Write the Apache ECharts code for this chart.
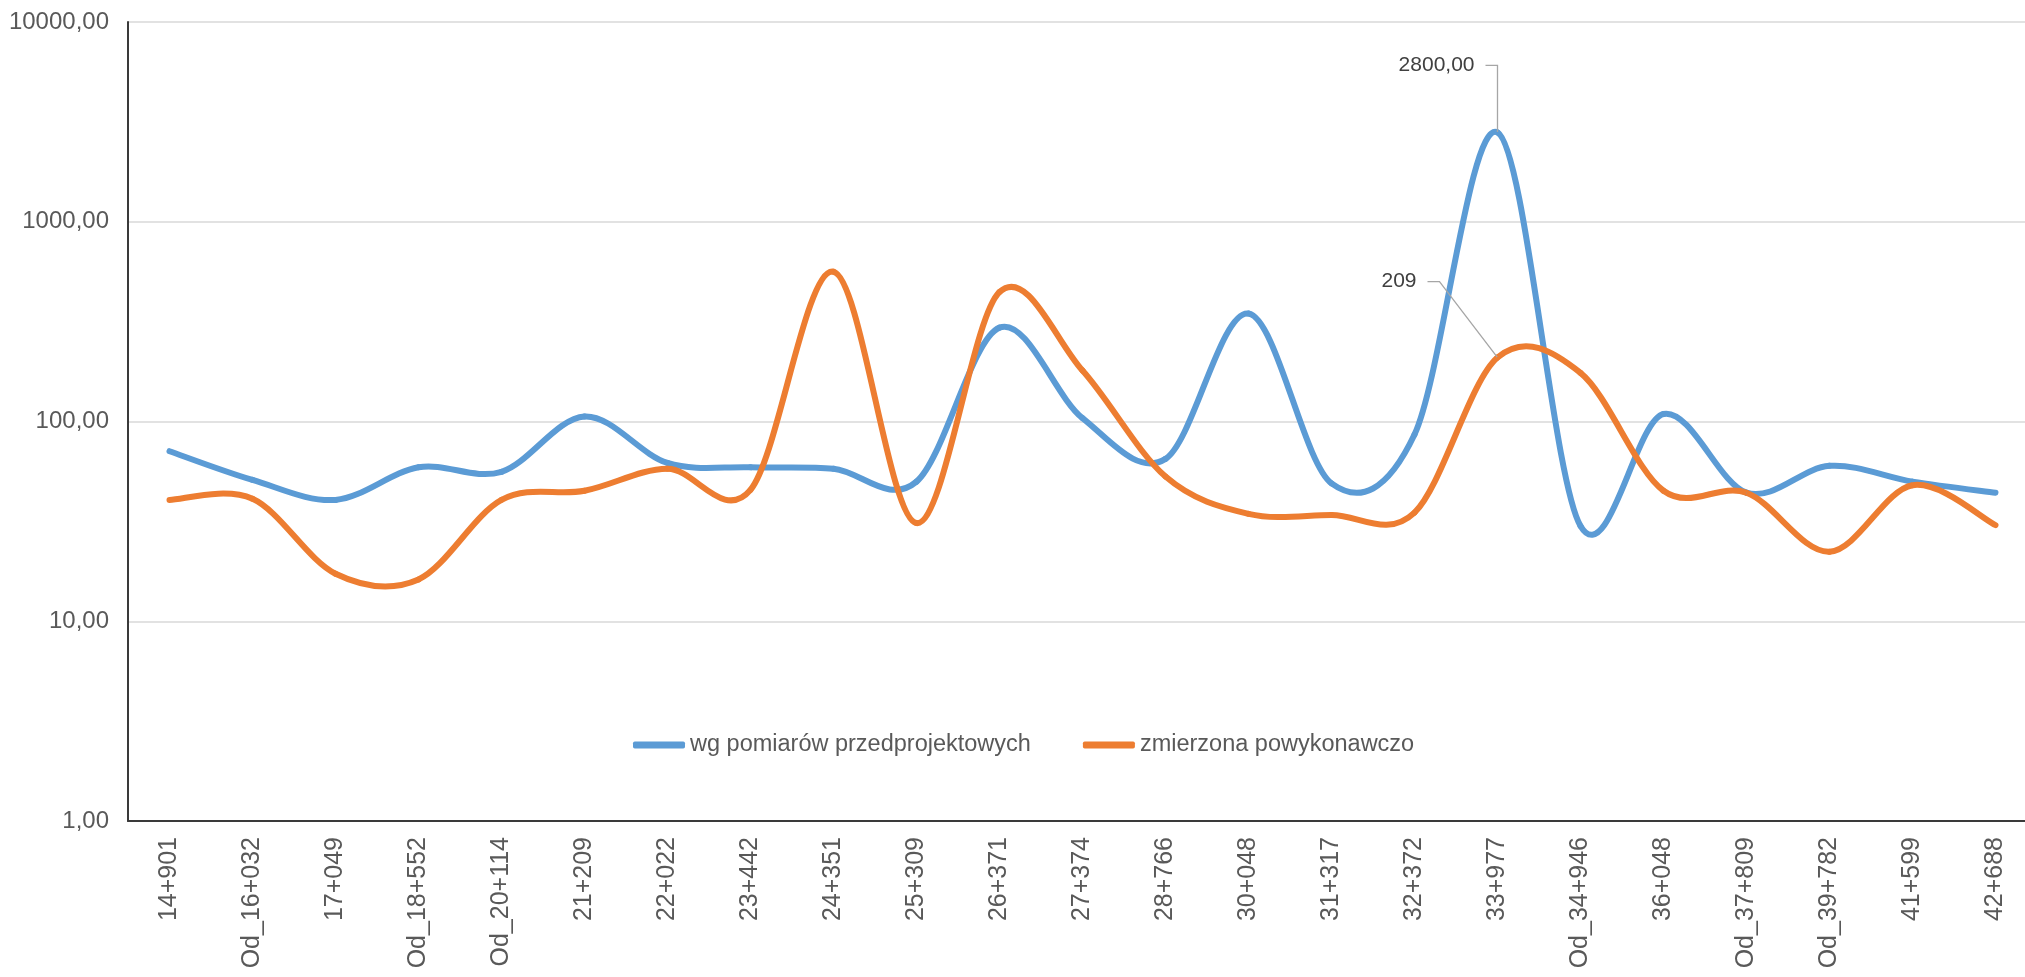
<!DOCTYPE html>
<html>
<head>
<meta charset="utf-8">
<script src="https://cdn.jsdelivr.net/npm/echarts@6/dist/echarts.min.js"></script>
<style>
html,body{margin:0;padding:0;background:#fff;}
#chart{width:2025px;height:977px;}
</style>
</head>
<body>
<div id="chart"></div>
<script>
const categories = ['14+901','Od_16+032','17+049','Od_18+552','Od_20+114','21+209','22+022','23+442','24+351','25+309','26+371','27+374','28+766','30+048','31+317','32+372','33+977','Od_34+946','36+048','Od_37+809','Od_39+782','41+599','42+688'];
const seriesNames = ['wg pomiarów przedprojektowych','zmierzona powykonawczo'];
const preDesign = [71, 51, 40.5, 59, 56, 106, 62, 59, 58, 50, 295, 104, 65, 347, 49, 86, 2800, 30, 109, 44, 60, 50, 44];
const asBuilt = [40.5, 41, 17.3, 16.2, 40.5, 45, 58, 45.5, 562, 31, 445, 180, 53, 34.5, 34, 35, 209, 175, 45, 44, 22.3, 48, 30.3];
const yTicks = [1, 10, 100, 1000, 10000];
const labeledIndex = 16;
const colors = ['#5b9bd5', '#ed7d31'];

const FONT = '"Liberation Sans", Arial, sans-serif';
const fmtComma = v => v.toFixed(2).replace('.', ',');

const chart = echarts.init(document.getElementById('chart'), null, {renderer: 'canvas'});

// Smoothed curve (Catmull-Rom style, like spreadsheet smoothed lines), positioned via the axes.
function curveSeries(name, values, color, z) {
  const n = values.length;
  return {
    name: name,
    type: 'custom',
    z: z,
    silent: true,
    itemStyle: {color: color},
    data: values.map((v, i) => [i, v]),
    encode: {x: 0, y: 1},
    renderItem: function (params, api) {
      const i = params.dataIndex;
      if (i >= n - 1) return null;
      const P = k => {
        const c = Math.max(0, Math.min(n - 1, k));
        return api.coord([c, values[c]]);
      };
      const p0 = P(i - 1), p1 = P(i), p2 = P(i + 1), p3 = P(i + 2);
      const t = 1 / 6;
      return {
        type: 'bezierCurve',
        shape: {
          x1: p1[0], y1: p1[1], x2: p2[0], y2: p2[1],
          cpx1: p1[0] + (p2[0] - p0[0]) * t, cpy1: p1[1] + (p2[1] - p0[1]) * t,
          cpx2: p2[0] - (p3[0] - p1[0]) * t, cpy2: p2[1] - (p3[1] - p1[1]) * t
        },
        style: {stroke: color, fill: null, lineWidth: 6, lineCap: 'round'}
      };
    }
  };
}

function makeData(arr, formatter) {
  return arr.map((v, i) => {
    if (i !== labeledIndex) return v;
    return {
      value: v,
      label: {
        show: true,
        formatter: formatter(v),
        fontFamily: FONT,
        fontSize: 21,
        color: '#404040',
        backgroundColor: 'rgba(255,255,255,0)',
        padding: [0, 11, 0, 0]
      },
      labelLine: {show: true, length2: 12, lineStyle: {color: '#a6a6a6', width: 1.3}}
    };
  });
}

function labelSeries(name, values, color, formatter, offX, offY) {
  return {
    name: name,
    type: 'line',
    data: makeData(values, formatter),
    showSymbol: true,
    showAllSymbol: true,
    symbol: 'circle',
    symbolSize: 1,
    itemStyle: {color: color},
    lineStyle: {opacity: 0},
    silent: true,
    z: 5,
    labelLayout: function (p) {
      if (p.dataIndex !== labeledIndex) return {};
      const cx = p.rect.x + p.rect.width / 2;
      const cy = p.rect.y + p.rect.height / 2;
      return {x: cx + offX, y: cy + offY, align: 'right', verticalAlign: 'middle'};
    }
  };
}

chart.setOption({
  animation: false,
  backgroundColor: '#ffffff',
  grid: {left: 128, width: 1909, top: 22, bottom: 156, containLabel: false, outerBoundsMode: 'none'},
  legend: {
    left: 633,
    top: 733,
    padding: 0,
    icon: 'roundRect',
    itemWidth: 52,
    itemHeight: 7,
    itemGap: 52,
    textStyle: {fontFamily: FONT, fontSize: 23.5, color: '#595959'},
    data: [
      {name: seriesNames[0], itemStyle: {color: colors[0], opacity: 1}},
      {name: seriesNames[1], itemStyle: {color: colors[1], opacity: 1}}
    ]
  },
  xAxis: {
    type: 'category',
    data: categories,
    boundaryGap: true,
    axisLine: {show: true, lineStyle: {color: '#3a3a3a', width: 2}},
    axisTick: {show: false},
    axisLabel: {rotate: 90, interval: 0, margin: 16, fontFamily: FONT, fontSize: 25, color: '#595959'},
    splitLine: {show: false}
  },
  yAxis: {
    type: 'log',
    logBase: 10,
    min: yTicks[0],
    max: yTicks[yTicks.length - 1],
    axisLine: {show: true, lineStyle: {color: '#3a3a3a', width: 2}},
    axisTick: {show: false},
    axisLabel: {margin: 19, fontFamily: FONT, fontSize: 24, color: '#595959', formatter: v => fmtComma(v)},
    splitLine: {show: true, lineStyle: {color: '#d9d9d9', width: 1.5}},
    minorTick: {show: false},
    minorSplitLine: {show: false}
  },
  series: [
    curveSeries(seriesNames[0], preDesign, colors[0], 2),
    curveSeries(seriesNames[1], asBuilt, colors[1], 3),
    labelSeries(seriesNames[0], preDesign, colors[0], fmtComma, -12, -67),
    labelSeries(seriesNames[1], asBuilt, colors[1], v => String(v), -70, -76)
  ]
});
</script>
</body>
</html>
